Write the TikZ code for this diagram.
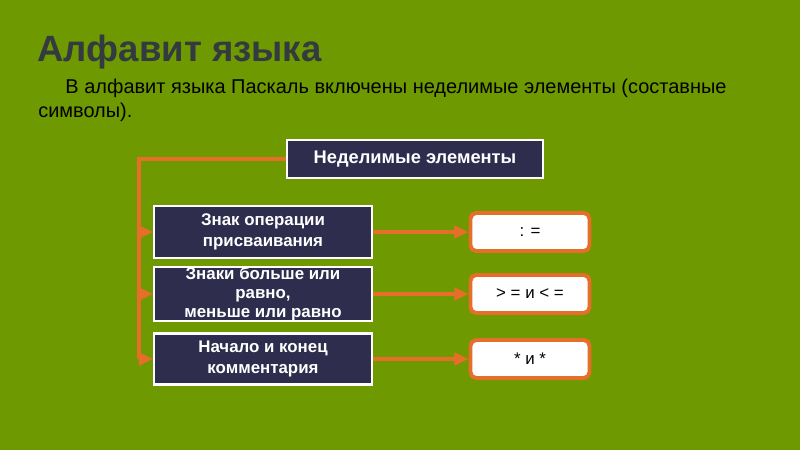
\documentclass[tikz,border=0pt]{standalone}
\usepackage{fontspec}
\setmainfont{Liberation Sans}
\usetikzlibrary{arrows.meta}
\usetikzlibrary{positioning}
\definecolor{slidegreen}{RGB}{111,153,0}
\definecolor{boxnavy}{RGB}{46,45,78}
\definecolor{linkorange}{RGB}{229,110,40}
\definecolor{titlegray}{RGB}{51,58,64}
\begin{document}
\begin{tikzpicture}[x=0.025cm, y=-0.025cm,
every node/.style={inner sep=0pt},
darkbox/.style={draw=white, line width=1.5pt, fill=boxnavy, text=white,
 font=\bfseries\fontsize{12}{14.5}\selectfont, align=center},
valbox/.style={draw=linkorange, line width=2.8pt, fill=white, rounded corners=4pt,
 minimum width=2.975cm, minimum height=0.95cm, font=\fontsize{12}{14}\selectfont},
link/.style={draw=linkorange, line width=2.2pt},
linkarrow/.style={link, -{Triangle[length=10pt, width=9pt]}}]
\useasboundingbox[fill=slidegreen] (0,0) rectangle (800,450);
\node[anchor=base west, text=titlegray, font=\bfseries\fontsize{26}{30}\selectfont] (title) at (37,61) {Алфавит языка};
\node[anchor=north west, align=left, font=\fontsize{14.2}{17}\selectfont] (intro) at (38,79)
 {\hspace*{0.68cm}В алфавит языка Паскаль включены неделимые элементы (составные\\символы).};
\node[darkbox, minimum width=6.4cm, minimum height=0.95cm, font=\bfseries\fontsize{13}{16}\selectfont] (top) at (415,159) {Неделимые элементы};
\node[darkbox, minimum width=5.45cm, minimum height=1.3cm] (l1) at (263,232) {Знак операции\\присваивания};
\node[darkbox, minimum width=5.45cm, minimum height=1.35cm, font=\bfseries\fontsize{12}{13.6}\selectfont] (l2) at (263,294) {Знаки больше или\\равно,\\меньше или равно};
\node[darkbox, minimum width=5.45cm, minimum height=1.275cm] (l3) at (263,359) {Начало и конец\\комментария};
\node[valbox] (r1) at (530,232) {: =};
\node[valbox] (r2) at (530,294) {> = и < =};
\node[valbox] (r3) at (530,359) {* и *};
\coordinate (trunk) at (139,159);
\draw[link] (top.west) -- (trunk) -- (trunk |- l3.west);
\foreach \i in {1,2,3}{
\draw[linkarrow] (trunk |- l\i.west) -- (l\i.west);
\draw[linkarrow] (l\i.east) -- (r\i.west);}
\end{tikzpicture}
\end{document}
